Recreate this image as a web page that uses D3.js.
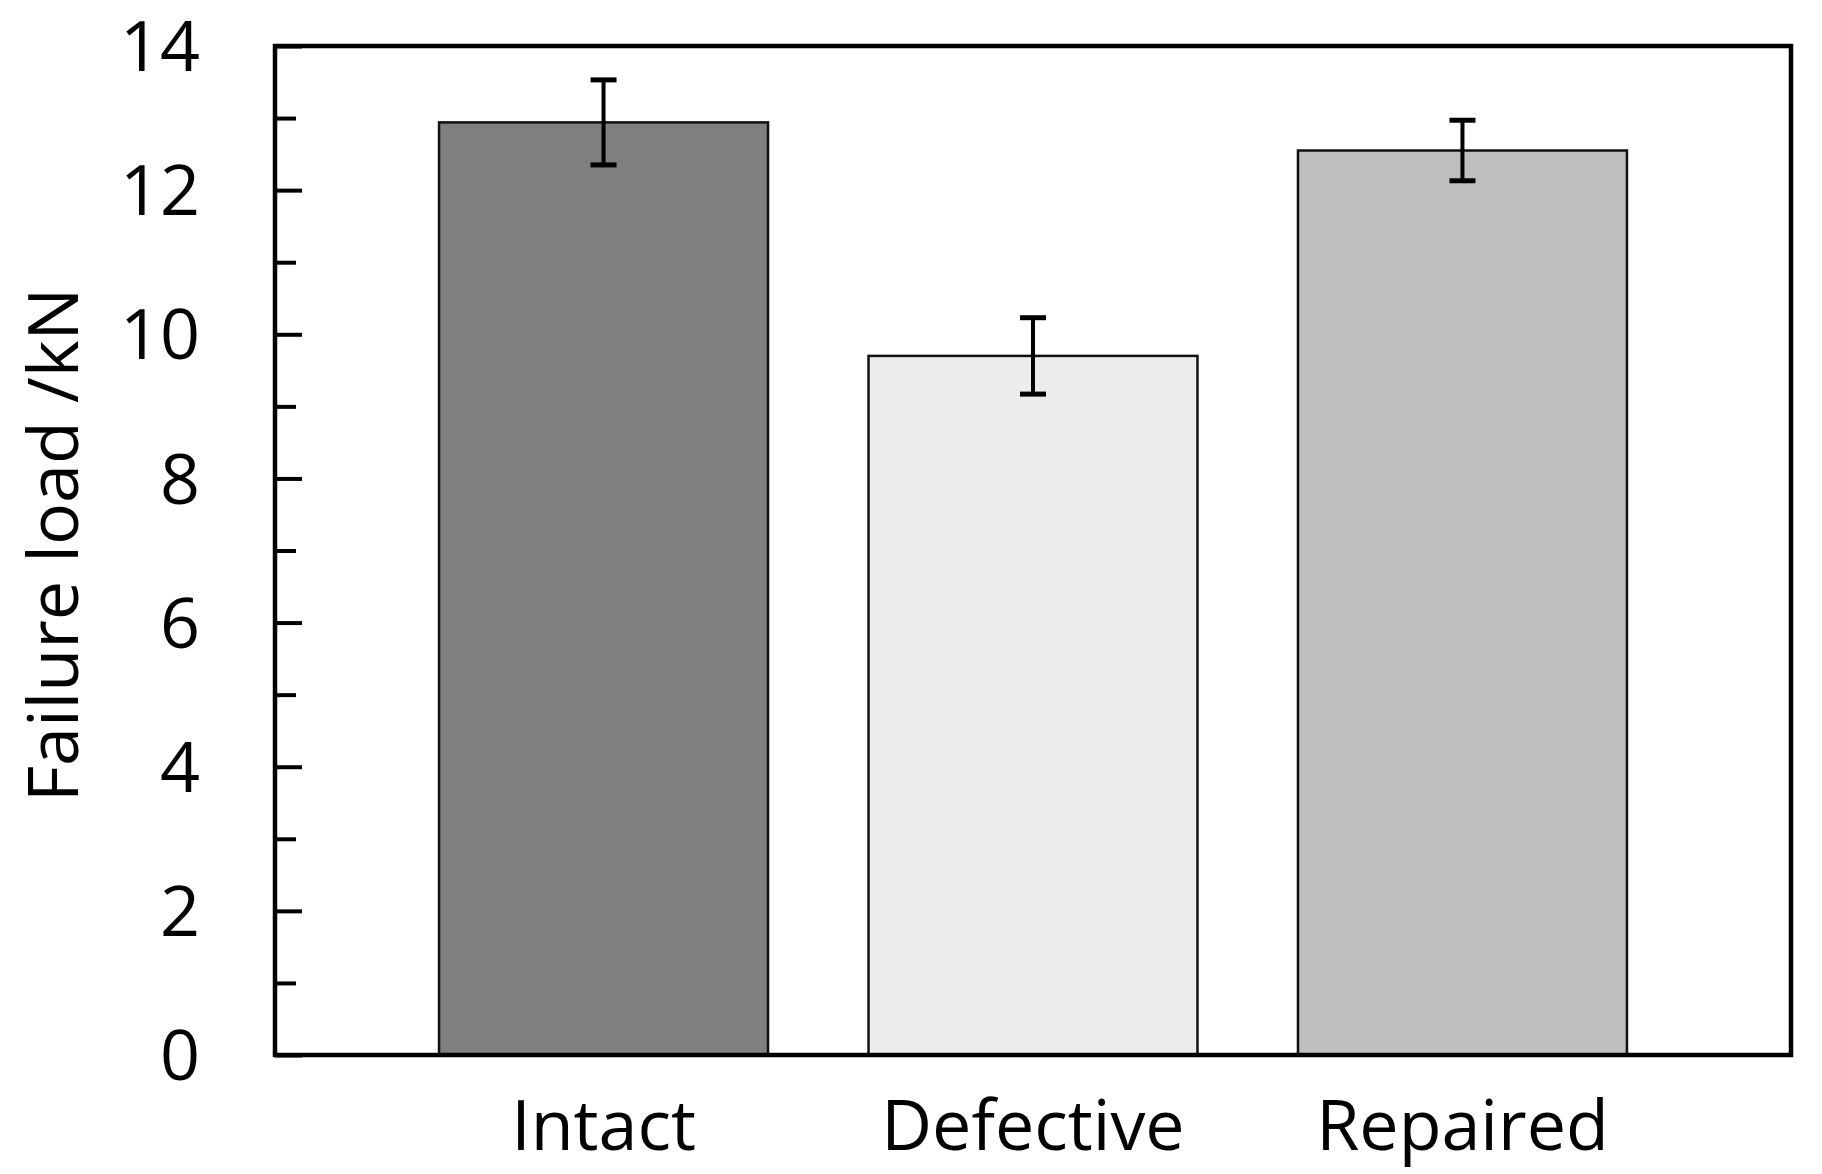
<!DOCTYPE html>
<html>
<head>
<meta charset="utf-8">
<script src="https://cdn.jsdelivr.net/npm/d3@7"></script>
<style>
  body { margin: 0; background: #fff; }
  text { font-family: "Open Sans", "Noto Sans", sans-serif; fill: #000; }
</style>
</head>
<body>
<div id="chart"></div>
<script>
const width = 1822;
const height = 1174;

// data
const categories = ["Intact", "Defective", "Repaired"];
const loads = [12.94, 9.70, 12.55];
const errors = [0.59, 0.53, 0.42];
const barColors = ["#7f7f7f", "#ececec", "#bfbfbf"];
const majorTicks = [0, 2, 4, 6, 8, 10, 12, 14];
const minorTicks = [1, 3, 5, 7, 9, 11, 13];

// plot box
const plotLeft = 275, plotRight = 1791, plotTop = 46, plotBottom = 1055;

const svg = d3
  .select("#chart")
  .append("svg")
  .attr("width", width)
  .attr("height", height);

const xScale = d3
  .scaleBand()
  .domain(categories)
  .range([plotLeft, plotRight])
  .paddingInner(0.234)
  .paddingOuter(0.382);

const yScale = d3
  .scaleLinear()
  .domain([0, 14])
  .range([plotBottom, plotTop]);

// bars
svg
  .selectAll("rect.bar")
  .data(categories)
  .enter()
  .append("rect")
  .attr("class", "bar")
  .attr("x", (d) => xScale(d))
  .attr("y", (d, i) => yScale(loads[i]))
  .attr("width", xScale.bandwidth())
  .attr("height", (d, i) => yScale(0) - yScale(loads[i]))
  .attr("fill", (d, i) => barColors[i])
  .attr("stroke", "#111")
  .attr("stroke-width", 2.5);

// error bars
const capHalf = 13;
const err = svg.append("g").attr("stroke", "#000").attr("stroke-width", 4);
categories.forEach((c, i) => {
  const cx = xScale(c) + xScale.bandwidth() / 2;
  const y1 = yScale(loads[i] + errors[i]);
  const y2 = yScale(loads[i] - errors[i]);
  err.append("line").attr("x1", cx).attr("x2", cx).attr("y1", y1).attr("y2", y2);
  err.append("line").attr("x1", cx - capHalf).attr("x2", cx + capHalf).attr("y1", y1).attr("y2", y1).attr("stroke-width", 5);
  err.append("line").attr("x1", cx - capHalf).attr("x2", cx + capHalf).attr("y1", y2).attr("y2", y2).attr("stroke-width", 5);
});

// y axis: inside ticks
const yAxis = d3.axisRight(yScale).tickValues(majorTicks).tickSize(27).tickFormat("");
const yMinor = d3.axisRight(yScale).tickValues(minorTicks).tickSize(21).tickFormat("");

const gy = svg.append("g").attr("transform", "translate(" + plotLeft + ",0)").call(yAxis);
const gyMinor = svg.append("g").attr("transform", "translate(" + plotLeft + ",0)").call(yMinor);
[gy, gyMinor].forEach((g) => {
  g.select(".domain").remove();
  g.selectAll(".tick line").attr("stroke", "#000").attr("stroke-width", 4);
});

// tick labels
svg
  .append("g")
  .selectAll("text")
  .data(majorTicks)
  .enter()
  .append("text")
  .attr("x", 200)
  .attr("y", (d) => yScale(d))
  .attr("dy", "0.36em")
  .attr("text-anchor", "end")
  .attr("font-size", 70)
  .text((d) => d);

// frame
svg
  .append("rect")
  .attr("x", plotLeft)
  .attr("y", plotTop)
  .attr("width", plotRight - plotLeft)
  .attr("height", plotBottom - plotTop)
  .attr("fill", "none")
  .attr("stroke", "#000")
  .attr("stroke-width", 4.5);

// x labels
svg
  .append("g")
  .selectAll("text")
  .data(categories)
  .enter()
  .append("text")
  .attr("x", (d) => xScale(d) + xScale.bandwidth() / 2)
  .attr("y", 1150)
  .attr("text-anchor", "middle")
  .attr("font-size", 70)
  .text((d) => d);

// y label
svg
  .append("text")
  .attr("transform", "translate(78,545) rotate(-90)")
  .attr("text-anchor", "middle")
  .attr("font-size", 70)
  .text("Failure load /kN");
</script>
</body>
</html>
